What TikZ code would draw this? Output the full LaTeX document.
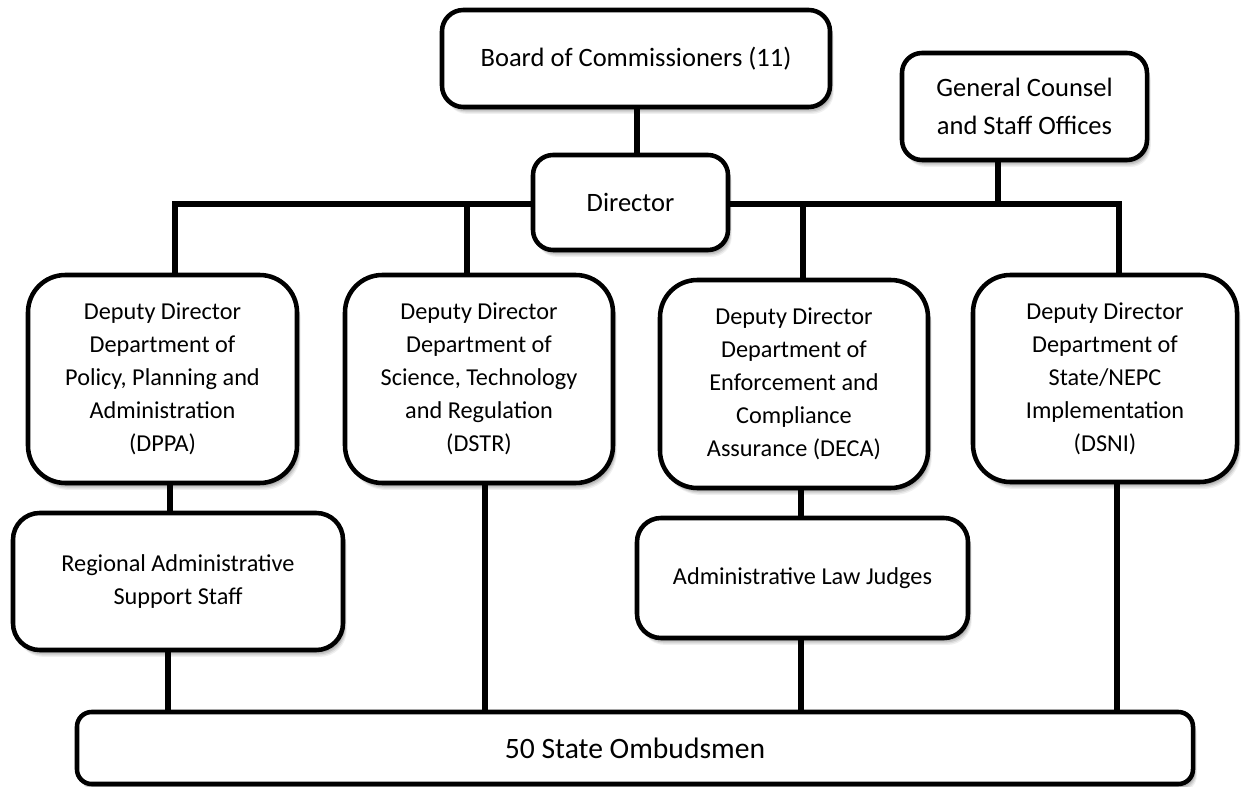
\documentclass[tikz,border=0pt]{standalone}
\usepackage{fontspec}
\setmainfont{Carlito}
\usetikzlibrary{shadows,calc}
\pgfdeclarelayer{bg}
\pgfdeclarelayer{paper}
\pgfsetlayers{paper,bg,main}
\begin{document}
\begin{tikzpicture}[x=0.75pt,y=-0.75pt,
  softshadow/.style={
    general shadow={fill=black, opacity=0.10, shadow xshift=0.8pt, shadow yshift=-1.2pt},
    general shadow={fill=black, opacity=0.10, shadow xshift=1.3pt, shadow yshift=-2.2pt},
    general shadow={fill=black, opacity=0.10, shadow xshift=1.8pt, shadow yshift=-3.2pt},
    general shadow={fill=black, opacity=0.08, shadow xshift=2.3pt, shadow yshift=-4.2pt},
    general shadow={fill=black, opacity=0.06, shadow xshift=2.8pt, shadow yshift=-5.2pt}},
  box/.style={draw=black, line width=3.4pt, fill=white, align=center, inner sep=0pt,
    text=black, softshadow},
  topfont/.style={font=\fontsize{19.9}{28.5}\selectfont},
  deptfont/.style={font=\fontsize{18.2}{24.75}\selectfont},
  link/.style={line width=4.4pt, black}]
\useasboundingbox (0,0) rectangle (1241,787);
\begin{pgfonlayer}{paper}
\fill[white] (0,0) rectangle (1241,787);
\end{pgfonlayer}

\node[box, topfont, rounded corners=16pt, minimum width=388*0.75pt, minimum height=97*0.75pt] (board) at (636,58.5) {Board of Commissioners (11)};
\node[box, topfont, rounded corners=15pt, minimum width=195*0.75pt, minimum height=95*0.75pt] (director) at (630.5,202.5) {Director};
\node[box, topfont, rounded corners=15pt, minimum width=245*0.75pt, minimum height=107*0.75pt] (gc) at (1024.5,106.5) {General Counsel\\and Staff Offices};

\node[box, deptfont, rounded corners=28pt, minimum width=269*0.75pt, minimum height=208*0.75pt] (dppa) at (162.5,379) {Deputy Director\\Department of\\Policy, Planning and\\Administration\\(DPPA)};
\node[box, deptfont, rounded corners=28pt, minimum width=268*0.75pt, minimum height=208*0.75pt] (dstr) at (479,379) {Deputy Director\\Department of\\Science, Technology\\and Regulation\\(DSTR)};
\node[box, deptfont, rounded corners=28pt, minimum width=268*0.75pt, minimum height=208*0.75pt] (deca) at (794,384) {Deputy Director\\Department of\\Enforcement and\\Compliance\\Assurance (DECA)};
\node[box, deptfont, rounded corners=28pt, minimum width=264*0.75pt, minimum height=207*0.75pt] (dsni) at (1105,378.5) {Deputy Director\\Department of\\State/NEPC\\Implementation\\(DSNI)};

\node[box, deptfont, rounded corners=20pt, minimum width=330*0.75pt, minimum height=137*0.75pt] (ras) at (178,581.5) {Regional Administrative\\Support Staff};
\node[box, deptfont, rounded corners=18pt, minimum width=331*0.75pt, minimum height=120*0.75pt] (alj) at (802.5,578) {Administrative Law Judges};

\node[box, font=\fontsize{22.2}{27}\selectfont, rounded corners=11pt, minimum width=1116*0.75pt, minimum height=72*0.75pt] (omb) at (635,748) {50 State Ombudsmen};

% junction coordinates
\coordinate (jl) at (175,204);
\coordinate (js) at (467,204);
\coordinate (jd) at (803,204);
\coordinate (jg) at (998,204);
\coordinate (jr) at (1119,204);
\coordinate (xb) at (637,0);
\coordinate (x1) at (170,0);
\coordinate (x2) at (168,0);
\coordinate (x3) at (485,0);
\coordinate (x4) at (801,0);
\coordinate (x5) at (1117,0);

\begin{pgfonlayer}{bg}
\draw[link] (board.south -| xb) -- (director.north -| xb);
\draw[link] (director.center |- jl) -- (jl) -- (jl |- dppa.north);
\draw[link] (js) -- (js |- dstr.north);
\draw[link] (director.center |- jr) -- (jr) -- (jr |- dsni.north);
\draw[link] (jd) -- (jd |- deca.north);
\draw[link] (gc.south -| jg) -- (jg);
\draw[link] (dppa.south -| x1) -- (ras.north -| x1);
\draw[link] (ras.south -| x2) -- (omb.north -| x2);
\draw[link] (dstr.south -| x3) -- (omb.north -| x3);
\draw[link] (deca.south -| x4) -- (alj.north -| x4);
\draw[link] (alj.south -| x4) -- (omb.north -| x4);
\draw[link] (dsni.south -| x5) -- (omb.north -| x5);
\end{pgfonlayer}
\end{tikzpicture}
\end{document}
